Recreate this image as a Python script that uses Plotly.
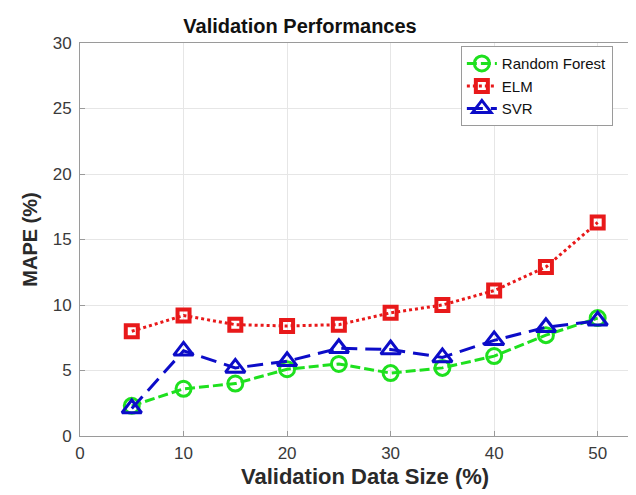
import plotly.graph_objects as go

sizes = [5, 10, 15, 20, 25, 30, 35, 40, 45, 50]
rf = [2.3, 3.6, 4.0, 5.1, 5.5, 4.8, 5.2, 6.1, 7.7, 9.0]
elm = [8.0, 9.2, 8.5, 8.4, 8.5, 9.4, 10.0, 11.1, 12.9, 16.3]
svr = [2.1, 6.5, 5.2, 5.7, 6.7, 6.6, 6.0, 7.3, 8.3, 8.8]

FONT = "Liberation Sans, Arial, Helvetica"

fig = go.Figure()
fig.add_trace(go.Scatter(x=sizes, y=rf, name="Random Forest", mode="lines+markers",
                         line=dict(color="#1ee01e", width=3, dash="10px,4px"),
                         marker=dict(symbol="circle-open", size=15, color="#1ee01e", line=dict(width=3))))
fig.add_trace(go.Scatter(x=sizes, y=elm, name="ELM", mode="lines+markers",
                         line=dict(color="#e8191a", width=3, dash="dot"),
                         marker=dict(symbol="square-open", size=12, color="#e8191a", line=dict(width=4))))
fig.add_trace(go.Scatter(x=sizes, y=svr, name="SVR", mode="lines+markers",
                         line=dict(color="#0c0cc8", width=3, dash="16px,8px"),
                         marker=dict(symbol="triangle-up-open", size=17, color="#0c0cc8", line=dict(width=3))))

axis_common = dict(showgrid=True, gridcolor="#e6e6e6", gridwidth=1, showline=True,
                   linecolor="#9a9a9a", linewidth=1, mirror=True, ticks="inside",
                   ticklen=5, tickcolor="#9a9a9a", zeroline=False, automargin=False,
                   tickfont=dict(family=FONT, size=17, color="#3a3a3a"))

# the page body has an 8px default margin; the figure is sized to compensate
fig.update_layout(
    width=628, height=487,
    margin=dict(l=72, r=0, t=35, b=59),
    paper_bgcolor="white", plot_bgcolor="white",
    title=dict(text="<b>Validation Performances</b>", x=0.465, xanchor="center",
               y=1 - 18 / 487, yanchor="middle",
               font=dict(family=FONT, size=20, color="#111111")),
    xaxis=dict(range=[0, 53.7], tickvals=[0, 10, 20, 30, 40, 50], ticklabelstandoff=2,
               **axis_common),
    yaxis=dict(range=[0, 30], tickvals=[0, 5, 10, 15, 20, 25, 30], ticklabelstandoff=4,
               title=dict(text="<b>MAPE (%)</b>", standoff=9,
                          font=dict(family=FONT, size=20, color="#2a2a2a")),
               **axis_common),
    legend=dict(x=0.685, y=0.992, xanchor="left", yanchor="top",
                bgcolor="white", bordercolor="#9a9a9a", borderwidth=1,
                font=dict(family=FONT, size=15, color="#111111"),
                tracegroupgap=0, itemwidth=30),
    showlegend=True,
    annotations=[dict(text="<b>Validation Data Size (%)</b>", xref="paper", yref="paper",
                      x=0.513, y=0, yshift=-40, xanchor="center", yanchor="middle",
                      showarrow=False, font=dict(family=FONT, size=22, color="#2a2a2a"))],
)

fig.write_html("out.html")
